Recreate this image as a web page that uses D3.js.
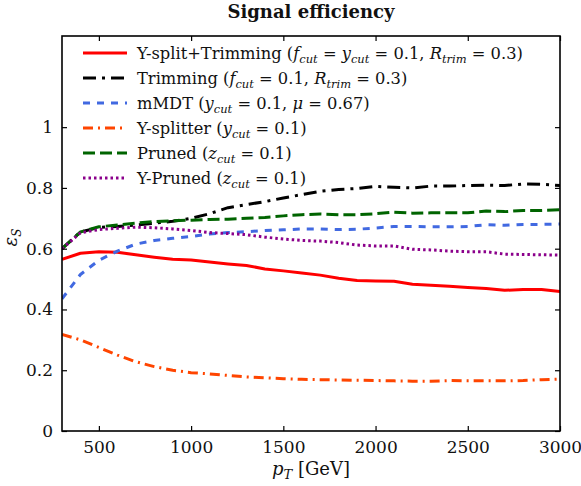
<!DOCTYPE html>
<html>
<head>
<meta charset="utf-8">
<script src="https://cdn.jsdelivr.net/npm/d3@7"></script>
<style>
  body { margin: 0; background: #fff; }
</style>
</head>
<body>
<div id="chart"></div>
<script>
// pT grid (GeV) shared by all curves
const PT = [300, 400, 500, 600, 700, 800, 900, 1000, 1100, 1200, 1300, 1400, 1500, 1600, 1700,
            1800, 1900, 2000, 2100, 2200, 2300, 2400, 2500, 2600, 2700, 2800, 2900, 3000];

// efficiencies
const ysplitTrim = [0.565, 0.585, 0.590, 0.588, 0.580, 0.572, 0.565, 0.563, 0.556, 0.550, 0.545, 0.533, 0.527, 0.520,
                    0.513, 0.503, 0.495, 0.494, 0.493, 0.483, 0.480, 0.476, 0.472, 0.469, 0.463, 0.466, 0.466, 0.459];
const trimming   = [0.600, 0.655, 0.670, 0.673, 0.678, 0.684, 0.690, 0.700, 0.715, 0.735, 0.745, 0.755, 0.767, 0.778,
                    0.789, 0.795, 0.798, 0.805, 0.802, 0.800, 0.806, 0.806, 0.808, 0.809, 0.808, 0.813, 0.812, 0.808];
const mmdt       = [0.435, 0.515, 0.562, 0.592, 0.615, 0.627, 0.634, 0.640, 0.648, 0.653, 0.656, 0.660, 0.662, 0.665,
                    0.665, 0.663, 0.664, 0.668, 0.673, 0.673, 0.672, 0.672, 0.673, 0.679, 0.677, 0.680, 0.680, 0.681];
const ysplitter  = [0.318, 0.300, 0.275, 0.250, 0.228, 0.212, 0.200, 0.192, 0.188, 0.183, 0.178, 0.175, 0.172, 0.170,
                    0.169, 0.168, 0.167, 0.166, 0.165, 0.164, 0.164, 0.166, 0.165, 0.165, 0.165, 0.166, 0.169, 0.171];
const pruned     = [0.600, 0.655, 0.672, 0.678, 0.684, 0.689, 0.692, 0.694, 0.696, 0.697, 0.700, 0.703, 0.708, 0.712,
                    0.714, 0.712, 0.712, 0.715, 0.720, 0.717, 0.718, 0.718, 0.718, 0.724, 0.722, 0.726, 0.726, 0.728];
const ypruned    = [0.600, 0.652, 0.663, 0.667, 0.671, 0.669, 0.665, 0.660, 0.653, 0.650, 0.646, 0.638, 0.632, 0.627,
                    0.625, 0.620, 0.612, 0.609, 0.609, 0.598, 0.596, 0.592, 0.590, 0.590, 0.582, 0.581, 0.580, 0.579];

const X_TICKS = [500, 1000, 1500, 2000, 2500, 3000];
const Y_TICKS = [0, 0.2, 0.4, 0.6, 0.8, 1];

// legend label parts: [text, italic?, subscript?]
const SERIES = [
  { values: ysplitTrim, color: '#ff0000', dash: null,
    label: [['Y-split+Trimming ('], ['f', 1], ['cut', 1, 1], [' = '], ['y', 1], ['cut', 1, 1], [' = 0.1, '], ['R', 1], ['trim', 1, 1], [' = 0.3)']] },
  { values: trimming, color: '#000000', dash: '13,6,3,6',
    label: [['Trimming ('], ['f', 1], ['cut', 1, 1], [' = 0.1, '], ['R', 1], ['trim', 1, 1], [' = 0.3)']] },
  { values: mmdt, color: '#4169e1', dash: '7,7',
    label: [['mMDT ('], ['y', 1], ['cut', 1, 1], [' = 0.1, '], ['μ', 1], [' = 0.67)']] },
  { values: ysplitter, color: '#ff4500', dash: '10,5,2,5',
    label: [['Y-splitter ('], ['y', 1], ['cut', 1, 1], [' = 0.1)']] },
  { values: pruned, color: '#006400', dash: '12,5',
    label: [['Pruned ('], ['z', 1], ['cut', 1, 1], [' = 0.1)']] },
  { values: ypruned, color: '#8b008b', dash: '2.5,3',
    label: [['Y-Pruned ('], ['z', 1], ['cut', 1, 1], [' = 0.1)']] },
];

const FONT = '"DejaVu Serif", "Liberation Serif", serif';
const W = 581, H = 486;
const M = { left: 62, right: 21, top: 36, bottom: 55 };

const svg = d3.select('#chart').append('svg').attr('width', W).attr('height', H)
  .style('font-family', FONT);

const x = d3.scaleLinear().domain([300, 3000]).range([M.left, W - M.right]);
const y = d3.scaleLinear().domain([0, 1.3]).range([H - M.bottom, M.top]);

// clip to the frame
svg.append('clipPath').attr('id', 'clip')
  .append('rect').attr('x', M.left).attr('y', M.top)
  .attr('width', W - M.left - M.right).attr('height', H - M.top - M.bottom);

const line = d3.line().x((d, i) => x(PT[i])).y(d => y(d));

const plot = svg.append('g').attr('clip-path', 'url(#clip)');
SERIES.forEach(s => {
  plot.append('path')
    .datum(s.values)
    .attr('d', line)
    .attr('fill', 'none')
    .attr('stroke', s.color)
    .attr('stroke-width', 3)
    .attr('stroke-dasharray', s.dash)
    .attr('stroke-linejoin', 'round');
});

// axes with inward ticks on all four sides
const TICK = 5;
const fmtY = d => d === 0 ? '0' : d === 1 ? '1' : d3.format('.1f')(d);
const axB = svg.append('g').attr('transform', `translate(0,${H - M.bottom})`)
  .call(d3.axisBottom(x).tickValues(X_TICKS).tickFormat(d3.format('d')).tickSizeInner(-TICK).tickSizeOuter(0).tickPadding(10));
const axT = svg.append('g').attr('transform', `translate(0,${M.top})`)
  .call(d3.axisTop(x).tickValues(X_TICKS).tickSizeInner(-TICK).tickSizeOuter(0).tickFormat(''));
const axL = svg.append('g').attr('transform', `translate(${M.left},0)`)
  .call(d3.axisLeft(y).tickValues(Y_TICKS).tickFormat(fmtY).tickSizeInner(-TICK).tickSizeOuter(0).tickPadding(9));
const axR = svg.append('g').attr('transform', `translate(${W - M.right},0)`)
  .call(d3.axisRight(y).tickValues(Y_TICKS).tickSizeInner(-TICK).tickSizeOuter(0).tickFormat(''));

[axB, axT, axL, axR].forEach(a => {
  a.attr('font-family', FONT);
  a.select('.domain').remove();
  a.selectAll('line').attr('stroke', '#000').attr('stroke-width', 1.2);
  a.selectAll('text').style('font-size', '17px').attr('fill', '#111');
});

svg.append('rect')
  .attr('x', M.left).attr('y', M.top)
  .attr('width', W - M.left - M.right).attr('height', H - M.top - M.bottom)
  .attr('fill', 'none').attr('stroke', '#000').attr('stroke-width', 1.6);

// title
svg.append('text')
  .attr('x', (M.left + W - M.right) / 2).attr('y', 18)
  .attr('text-anchor', 'middle').attr('fill', '#111')
  .style('font-size', '18px').style('font-weight', 'bold')
  .text('Signal efficiency');

// x label
const xl = svg.append('text')
  .attr('x', (M.left + W - M.right) / 2).attr('y', 475)
  .attr('text-anchor', 'middle').attr('fill', '#111').style('font-size', '18px');
xl.append('tspan').style('font-style', 'italic').text('p');
xl.append('tspan').style('font-style', 'italic').style('font-size', '13px').attr('dy', 4).text('T');
xl.append('tspan').attr('dy', -4).text(' [GeV]');

// y label
const yl = svg.append('text')
  .attr('transform', `translate(17,${(M.top + H - M.bottom) / 2 + 4}) rotate(-90)`)
  .attr('text-anchor', 'middle').attr('fill', '#111').style('font-size', '18px');
yl.append('tspan').style('font-style', 'italic').text('ε');
yl.append('tspan').style('font-style', 'italic').style('font-size', '12px').attr('dy', 4).text('S');

// legend
const LEG_X = 83, LEG_Y = 53, LEG_DY = 25, LEG_LEN = 44;
SERIES.forEach((s, i) => {
  const ly = LEG_Y + i * LEG_DY;
  svg.append('line')
    .attr('x1', LEG_X).attr('x2', LEG_X + LEG_LEN).attr('y1', ly).attr('y2', ly)
    .attr('stroke', s.color).attr('stroke-width', 3).attr('stroke-dasharray', s.dash);
  const t = svg.append('text').attr('x', LEG_X + LEG_LEN + 10).attr('y', ly + 6)
    .attr('fill', '#111').style('font-size', '16.3px');
  let shifted = false;
  s.label.forEach(([str, it, sub]) => {
    const ts = t.append('tspan').text(str).style('white-space', 'pre');
    if (it) ts.style('font-style', 'italic');
    if (sub) { ts.style('font-size', '11.5px'); if (!shifted) { ts.attr('dy', 4); shifted = true; } }
    else if (shifted) { ts.attr('dy', -4); shifted = false; }
  });
});
</script>
</body>
</html>
